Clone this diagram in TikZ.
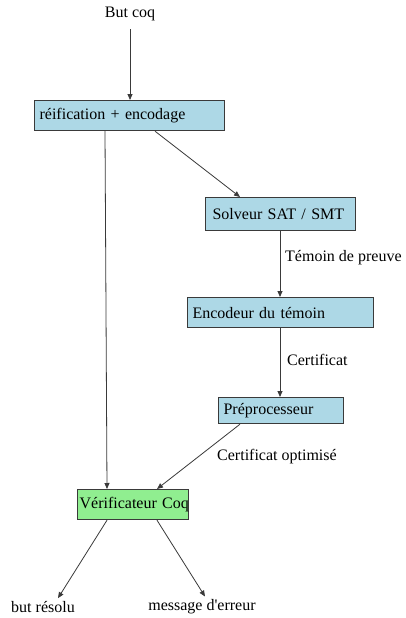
\documentclass[tikz,border=0pt]{standalone}
\usepackage{fontspec}
\setmainfont{Liberation Serif}
\newfontfamily\plainserif{Liberation Serif}
\usetikzlibrary{arrows.meta}
\definecolor{boxblue}{HTML}{ADD8E6}
\definecolor{boxgreen}{HTML}{90EE90}
\definecolor{edge}{HTML}{3A3A3A}
\tikzset{
  box/.style={draw=edge, line width=1.2pt, anchor=north west, align=left,
    inner ysep=0pt, font=\fontsize{16}{18}\selectfont},
  lbl/.style={inner sep=0pt, font=\fontsize{16}{18}\selectfont},
  arr/.style={draw=edge, line width=0.8pt, -{Triangle[length=6pt,width=5pt]}},
}
\begin{document}
\begin{tikzpicture}[x=1pt,y=-1pt]
\useasboundingbox[fill=white] (0,0) rectangle (405,618);
\node[box, fill=boxblue, inner xsep=5pt, text width=180pt, minimum height=30pt] (reif) at (34,100) {réification + encodage};
\node[box, fill=boxblue, inner xsep=7pt, text width=136pt, minimum height=33pt] (solv) at (205,197) {Solveur SAT / SMT};
\node[box, fill=boxblue, inner xsep=5pt, text width=176pt, minimum height=30pt] (enc) at (187,297) {Encodeur du témoin};
\node[box, fill=boxblue, inner xsep=5pt, text width=115pt, minimum height=26pt] (pre) at (218,397) {Préprocesseur};
\node[box, fill=boxgreen, inner xsep=2pt, text width=107pt, minimum height=30pt] (ver) at (77,489) {Vérificateur~Coq};

\node[lbl] (but) at (130,14) {But coq};
\node[lbl, anchor=west] (tem) at (285,258) {Témoin de preuve};
\node[lbl, anchor=west] (cert) at (287,360) {Certificat};
\node[lbl, anchor=west] (certo) at (217,457) {Certificat optimisé};
\node[lbl] (res) at (43,607) {but résolu};
\node[lbl] (err) at (202,607) {\plainserif message d'erreur};

\draw[arr] ([yshift=-8pt]but.south) -- (reif.north -| but.south);
\draw[arr] ([xshift=121pt]reif.south west) -- ([xshift=35pt]solv.north west);
\draw[arr] ([xshift=71pt]reif.south west) -- ([xshift=30pt]ver.north west);
\draw[arr] ([xshift=75pt]solv.south west) -- ([xshift=93pt]enc.north west);
\draw[arr] ([xshift=93pt]enc.south west) -- ([xshift=62pt]pre.north west);
\draw[arr] ([xshift=22pt]pre.south west) -- ([xshift=80pt]ver.north west);
\draw[arr] ([xshift=30pt]ver.south west) -- ([xshift=15pt,yshift=3pt]res.north);
\draw[arr] ([xshift=80pt]ver.south west) -- ([xshift=3pt,yshift=3pt]err.north);
\end{tikzpicture}
\end{document}
